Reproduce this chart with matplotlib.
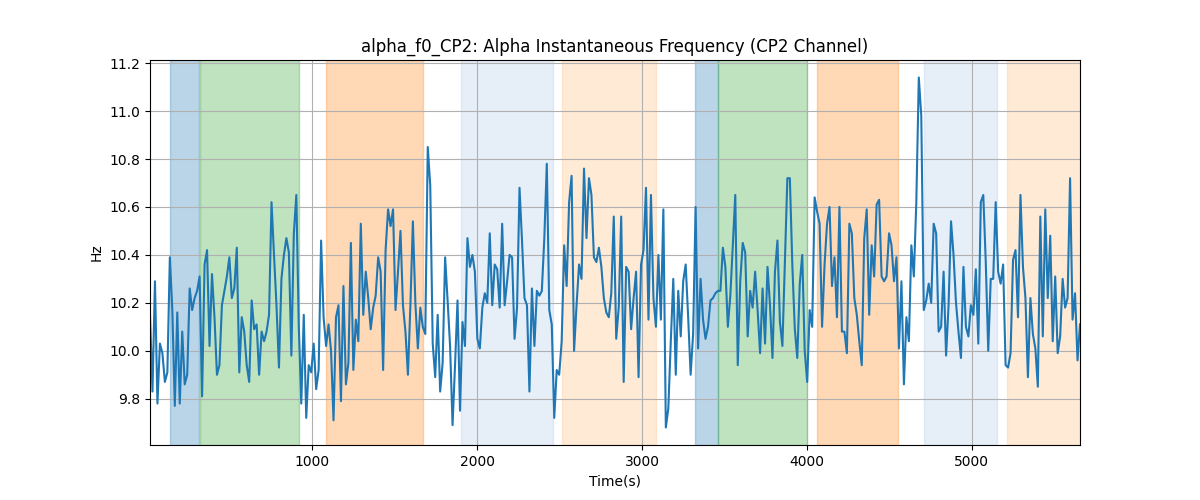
import numpy as np
import matplotlib.pyplot as plt

# alpha instantaneous frequency, CP2 channel (Hz), sampled every ~15 s
freq = [
    10.15,
    9.83, 10.29, 9.78, 10.03, 9.99, 9.87, 9.91, 10.39, 10.17, 9.77,
    10.16, 9.78, 10.08, 9.86, 9.90, 10.26, 10.17, 10.22, 10.25, 10.31,
    9.81, 10.36, 10.42, 10.02, 10.32, 10.14, 9.90, 9.94, 10.19, 10.25,
    10.31, 10.39, 10.22, 10.26, 10.43, 9.91, 10.14, 10.08, 9.94, 9.87,
    10.21, 10.09, 10.11, 9.90, 10.08, 10.04, 10.08, 10.15, 10.62, 10.40,
    10.19, 9.93, 10.30, 10.40, 10.47, 10.41, 9.98, 10.49, 10.65, 10.10,
    9.78, 10.15, 9.72, 9.94, 9.91, 10.03, 9.84, 9.92, 10.46, 10.14,
    10.02, 10.11, 10.00, 9.71, 10.14, 10.19, 9.79, 10.27, 9.86, 9.95,
    10.45, 9.92, 10.13, 10.04, 10.53, 10.15, 10.33, 10.22, 10.09, 10.18,
    10.23, 10.39, 10.33, 9.92, 10.42, 10.59, 10.52, 10.59, 10.17, 10.33,
    10.50, 10.19, 10.08, 9.90, 10.19, 10.54, 10.20, 10.01, 10.18, 10.10,
    10.07, 10.85, 10.69, 10.03, 9.89, 10.15, 9.83, 9.95, 10.39, 10.21,
    10.02, 9.69, 9.94, 10.21,
    9.75, 10.12, 10.02, 10.47, 10.35, 10.40, 10.33, 10.05, 10.01, 10.18,
    10.24, 10.20, 10.49, 10.19, 10.36, 10.34, 10.18, 10.53, 10.19, 10.29,
    10.40, 10.39, 10.05, 10.18, 10.68, 10.46, 10.22, 10.19, 9.83, 10.26,
    10.02, 10.25, 10.23, 10.25, 10.47, 10.78, 10.17, 10.11, 9.72, 9.92,
    9.90, 10.04, 10.44, 10.27, 10.62, 10.73, 10.00, 10.19, 10.36, 10.30,
    10.76, 10.47, 10.72, 10.65, 10.39, 10.37, 10.43, 10.35, 10.22, 10.16,
    10.14, 10.24, 10.56, 10.05, 10.18, 10.56, 9.87, 10.35, 10.33, 10.09,
    10.22, 10.33, 9.89, 10.36, 10.42, 10.68, 10.13, 10.65, 10.22, 10.10,
    10.40, 10.13, 10.59, 9.68, 9.76, 10.04, 10.30, 9.90, 10.25, 10.06,
    10.29, 10.36, 10.14, 9.90, 10.07, 10.60, 10.01, 10.30, 10.13, 10.05,
    10.10, 10.21, 10.22, 10.24, 10.25, 10.25, 10.43, 10.35, 10.10, 10.23,
    10.44, 10.65, 9.94, 10.29, 10.45, 10.41, 10.06, 10.25, 10.18, 10.33,
    10.17, 9.99,
    10.26, 10.03, 10.35, 10.19, 9.97, 10.33, 10.46, 10.12, 10.02, 10.37,
    10.72, 10.72, 10.36, 10.09, 9.97, 10.28, 10.40, 10.00, 9.87, 10.17,
    10.10, 10.64, 10.58, 10.53, 10.10, 10.36, 10.53, 10.60, 10.27, 10.39,
    10.14, 10.60, 10.08, 10.08, 9.99, 10.53, 10.49, 10.22, 10.15, 10.04,
    9.94, 10.47, 10.59, 10.15, 10.44, 10.31, 10.61, 10.63, 10.31, 10.29,
    10.31, 10.49, 10.44, 10.29, 10.39, 10.01, 10.29, 9.86, 10.14, 10.04,
    10.44, 10.31, 10.62, 11.14, 10.98, 10.17, 10.21, 10.28, 10.20, 10.53,
    10.49, 10.08, 10.10, 10.33, 9.98, 10.19, 10.54, 10.40, 10.20, 10.08,
    9.97, 10.35, 10.10, 10.06, 10.19, 10.15, 10.34, 10.03, 10.62, 10.65,
    10.37, 10.00, 10.30, 10.30, 10.62, 10.33, 10.28, 10.36, 9.94, 9.93,
    9.99, 10.38, 10.42, 10.14, 10.65, 10.35, 10.22, 9.89, 10.22, 10.07,
    10.01, 9.85, 10.56, 10.06, 10.59, 10.22, 10.48, 10.04, 10.31, 9.99,
    10.06, 10.30, 10.18, 10.22, 10.72, 10.13, 10.24, 9.96, 10.11,
]
t_start = 14
t_end = 5658

# shaded segments: (start, end, colour)
seg_start = [135, 318, 1082, 1901, 2514, 3322, 3461, 4062, 4711, 5215]
seg_end = [310, 918, 1671, 2460, 3085, 3461, 4001, 4554, 5154, 5658]
seg_color = ['tab:blue', 'tab:green', 'tab:orange', '#aec7e8', '#ffbb78',
             'tab:blue', 'tab:green', 'tab:orange', '#aec7e8', '#ffbb78']

time = np.linspace(t_start, t_end, len(freq))

fig, ax = plt.subplots(figsize=(12, 5), dpi=100)
for s, e, c in zip(seg_start, seg_end, seg_color):
    ax.axvspan(s, e, color=c, alpha=0.3)
ax.plot(time, freq, color='tab:blue', linewidth=1.5)
ax.set_xlim(t_start, t_end)
ax.grid(True)
ax.set_title('alpha_f0_CP2: Alpha Instantaneous Frequency (CP2 Channel)')
ax.set_xlabel('Time(s)')
ax.set_ylabel('Hz')
fig.savefig('out.png')
